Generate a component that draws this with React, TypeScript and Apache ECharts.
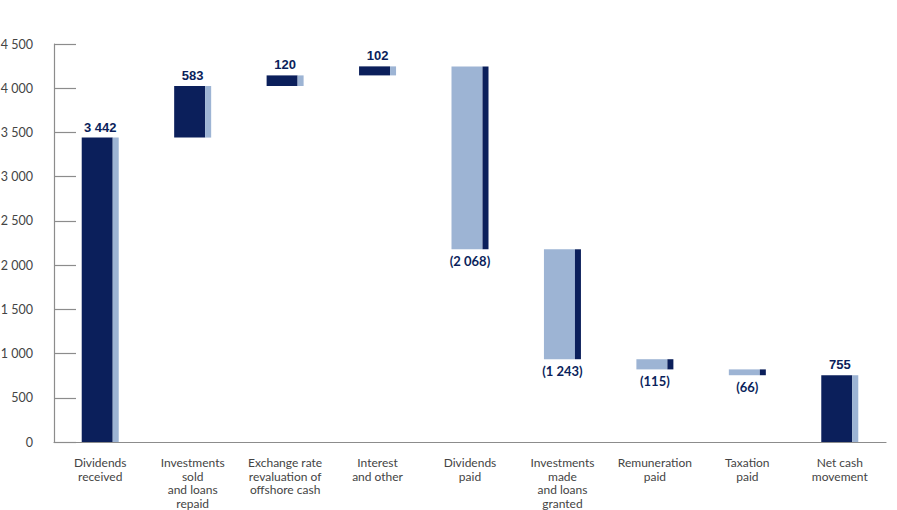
import React, { useEffect, useRef } from "react";
import * as echarts from "echarts";

const categories = [
  "Dividends\nreceived",
  "Investments\nsold\nand loans\nrepaid",
  "Exchange rate\nrevaluation of\noffshore cash",
  "Interest\nand other",
  "Dividends\npaid",
  "Investments\nmade\nand loans\ngranted",
  "Remuneration\npaid",
  "Taxation\npaid",
  "Net cash\nmovement",
];
const changes = [3442, 583, 120, 102, -2068, -1243, -115, -66, 755];
const isTotal = [true, false, false, false, false, false, false, false, true];
const yTicks = [0, 500, 1000, 1500, 2000, 2500, 3000, 3500, 4000, 4500];

const NAVY = "#0b1f5b";
const LIGHT = "#9db4d4";

const fmt = (v: number) =>
  Math.abs(Math.round(v))
    .toString()
    .replace(/\B(?=(\d{3})+(?!\d))/g, " ");

function buildData() {
  const out: any[] = [];
  let running = 0;
  changes.forEach((c, i) => {
    let low: number, high: number;
    if (isTotal[i]) {
      low = 0;
      high = c;
      running = c;
    } else {
      const next = running + c;
      low = Math.min(running, next);
      high = Math.max(running, next);
      running = next;
    }
    out.push([i, low, high, c]);
  });
  return out;
}

export default function App() {
  const ref = useRef<HTMLDivElement>(null);
  useEffect(() => {
    if (!ref.current) return;
    const chart = echarts.init(ref.current, null, { renderer: "svg" });
    const data = buildData();
    chart.setOption({
      animation: false,
      grid: {
        left: 54,
        right: 11,
        top: 44,
        bottom: 68,
        containLabel: false,
        outerBoundsMode: "none",
      },
      xAxis: {
        type: "category",
        data: categories,
        axisLine: { show: true, lineStyle: { color: "#8c8c8c", width: 1.2 } },
        axisTick: { show: false },
        axisLabel: {
          interval: 0,
          margin: 14,
          fontSize: 12,
          lineHeight: 13.5,
          color: "#444",
          fontFamily: "Lato",
          align: "center",
        },
      },
      yAxis: {
        type: "value",
        min: 0,
        max: yTicks[yTicks.length - 1],
        interval: 500,
        splitLine: { show: false },
        axisLine: { show: true, lineStyle: { color: "#8c8c8c", width: 1.2 } },
        axisTick: { show: true, inside: true, length: 22, lineStyle: { color: "#8c8c8c", width: 1.2 } },
        axisLabel: {
          margin: 21,
          fontSize: 12.5,
          color: "#444",
          fontFamily: "Lato",
          formatter: (v: number) => fmt(v),
        },
      },
      series: [
        {
          type: "custom",
          data,
          encode: { x: 0, y: [1, 2] },
          renderItem: (params: any, api: any) => {
            const idx = api.value(0);
            const low = api.value(1);
            const high = api.value(2);
            const val = api.value(3);
            const p1 = api.coord([idx, high]);
            const p0 = api.coord([idx, low]);
            const totalW = 37;
            const stripW = 6;
            const x0 = p1[0] - totalW / 2;
            const top = p1[1];
            const h = p0[1] - p1[1];
            const pos = val >= 0;
            const mainColor = pos ? NAVY : LIGHT;
            const stripColor = pos ? LIGHT : NAVY;
            const label = pos ? fmt(val) : "(" + fmt(val) + ")";
            return {
              type: "group",
              children: [
                {
                  type: "rect",
                  shape: { x: x0, y: top, width: totalW - stripW, height: h },
                  style: { fill: mainColor },
                },
                {
                  type: "rect",
                  shape: { x: x0 + totalW - stripW, y: top, width: stripW, height: h },
                  style: { fill: stripColor },
                },
                {
                  type: "text",
                  x: p1[0],
                  y: pos ? top - 4 : p0[1] + 5,
                  style: {
                    text: label,
                    fill: NAVY,
                    font: pos ? "bold 13px 'Liberation Sans', Arial, sans-serif" : "bold 13px Lato, sans-serif",
                    textAlign: "center",
                    textVerticalAlign: pos ? "bottom" : "top",
                  },
                },
              ],
            };
          },
        },
      ],
    });
    return () => chart.dispose();
  }, []);
  return (
    <div
      ref={ref}
      style={{ position: "fixed", left: 0, top: 0, width: 897, height: 510, background: "#fff" }}
    />
  );
}
